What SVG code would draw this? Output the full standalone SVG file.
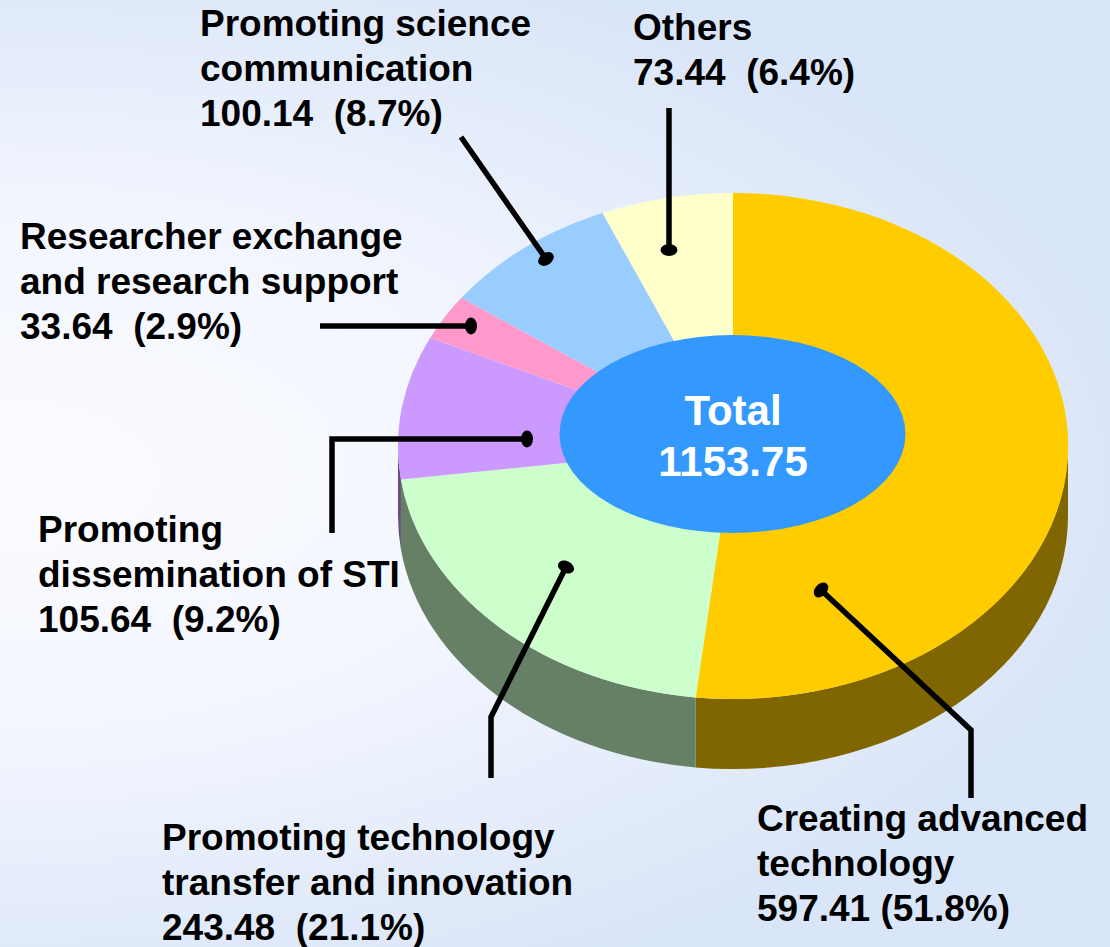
<svg xmlns="http://www.w3.org/2000/svg" width="1110" height="947" viewBox="0 0 1110 947">
<defs>
<radialGradient id="bg" gradientUnits="userSpaceOnUse" cx="0" cy="0" r="1" gradientTransform="translate(0,475) scale(1150,560)">
<stop offset="0" stop-color="#FBFCFF"/>
<stop offset="0.45" stop-color="#F3F6FE"/>
<stop offset="1" stop-color="#D9E5F8"/>
</radialGradient>
<marker id="dot" markerUnits="userSpaceOnUse" markerWidth="20" markerHeight="20" refX="0" refY="0" viewBox="-10 -10 20 20" orient="auto">
<ellipse cx="0" cy="0" rx="6" ry="8.5" fill="#000"/>
</marker>
<style>
.lbl{font-family:"Liberation Sans",Arial,sans-serif;font-weight:bold;font-size:37px;fill:#000;}
.tot{font-family:"Liberation Sans",Arial,sans-serif;font-weight:bold;font-size:42px;fill:#fff;text-anchor:middle;}
.lead{fill:none;stroke:#000;stroke-width:5.5;stroke-linejoin:miter;marker-end:url(#dot);}
</style>
</defs>
<rect x="0" y="0" width="1110" height="947" fill="url(#bg)"/>

<g id="pie-sides">
<path d="M1068,446 A335,253 0 0,1 695.6,697.4 L695.6,767.4 A335,253 0 0,0 1068,516 Z" fill="#806600"/>
<path d="M695.6,697.4 A335,253 0 0,1 400.95,479.55 L400.95,549.55 A335,253 0 0,0 695.6,767.4 Z" fill="#668066"/>
<path d="M400.95,479.55 A335,253 0 0,1 398,446 L398,516 A335,253 0 0,0 400.95,549.55 Z" fill="#664C80"/>
</g>

<g id="slice-creating">
<path d="M733,446 L733,193 A335,253 0 1,1 695.6,697.4 Z" fill="#FFCC00"/>
</g>
<g id="slice-transfer">
<path d="M733,446 L695.6,697.4 A335,253 0 0,1 400.95,479.55 Z" fill="#CCFFCC"/>
</g>
<g id="slice-dissemination">
<path d="M733,446 L400.95,479.55 A335,253 0 0,1 430.22,337.72 Z" fill="#CC99FF"/>
</g>
<g id="slice-researcher">
<path d="M733,446 L430.22,337.72 A335,253 0 0,1 461.43,297.86 Z" fill="#FF99CC"/>
</g>
<g id="slice-science">
<path d="M733,446 L461.43,297.86 A335,253 0 0,1 602.52,212.98 Z" fill="#99CCFF"/>
</g>
<g id="slice-others">
<path d="M733,446 L602.52,212.98 A335,253 0 0,1 733,193 Z" fill="#FFFFCC"/>
</g>

<g id="total">
<ellipse cx="732.5" cy="434" rx="173" ry="99" fill="#3399FF"/>
<text class="tot" x="733" y="425">Total</text>
<text class="tot" x="733" y="476">1153.75</text>
</g>

<g id="connectors">
<path class="lead" d="M461,137 L546,259"/>
<path class="lead" d="M669,108 L669,250"/>
<path class="lead" d="M320,326 L471,326"/>
<path class="lead" d="M332,533 L332,439 L527,439"/>
<path class="lead" d="M491,778 L491,717 L566,567"/>
<path class="lead" d="M971,798 L971,730 L821,590"/>
</g>

<g id="label-science">
<text class="lbl" x="200" y="36" xml:space="preserve">Promoting science</text>
<text class="lbl" x="200" y="81" xml:space="preserve">communication</text>
<text class="lbl" x="200" y="126" xml:space="preserve">100.14  (8.7%)</text>
</g>
<g id="label-others">
<text class="lbl" x="633" y="40" xml:space="preserve">Others</text>
<text class="lbl" x="633" y="85" xml:space="preserve">73.44  (6.4%)</text>
</g>
<g id="label-researcher">
<text class="lbl" x="20" y="249" xml:space="preserve">Researcher exchange</text>
<text class="lbl" x="20" y="294" xml:space="preserve">and research support</text>
<text class="lbl" x="20" y="339" xml:space="preserve">33.64  (2.9%)</text>
</g>
<g id="label-dissemination">
<text class="lbl" x="38" y="542" xml:space="preserve">Promoting</text>
<text class="lbl" x="38" y="587" xml:space="preserve">dissemination of STI</text>
<text class="lbl" x="38" y="632" xml:space="preserve">105.64  (9.2%)</text>
</g>
<g id="label-transfer">
<text class="lbl" x="162" y="850" xml:space="preserve">Promoting technology</text>
<text class="lbl" x="162" y="895" xml:space="preserve">transfer and innovation</text>
<text class="lbl" x="162" y="940" xml:space="preserve">243.48  (21.1%)</text>
</g>
<g id="label-creating">
<text class="lbl" x="757" y="831" xml:space="preserve">Creating advanced</text>
<text class="lbl" x="757" y="876" xml:space="preserve">technology</text>
<text class="lbl" x="757" y="921" xml:space="preserve">597.41 (51.8%)</text>
</g>
</svg>
